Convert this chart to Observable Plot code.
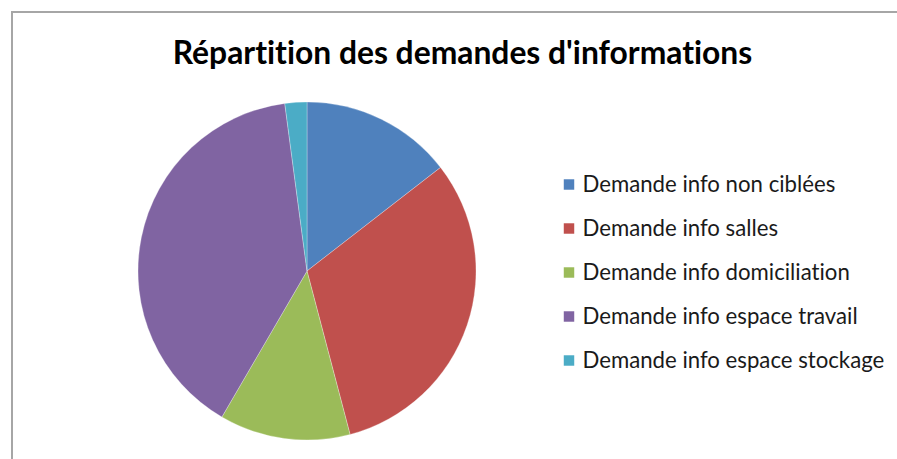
<!DOCTYPE html>
<html>
<head>
<meta charset="utf-8">
<script src="https://cdn.jsdelivr.net/npm/d3@7"></script>
<script src="https://cdn.jsdelivr.net/npm/@observablehq/plot@0.6"></script>
<style>
  html, body { margin: 0; padding: 0; background: #fff; overflow: hidden; }
  svg text { font-variant-ligatures: none; }
</style>
</head>
<body>
<div id="chart"></div>
<script>
const title = "Répartition des demandes d'informations";
const categories = [
  "Demande info non ciblées",
  "Demande info salles",
  "Demande info domiciliation",
  "Demande info espace travail",
  "Demande info espace stockage"
];
const values = [14.5, 31.4, 12.5, 39.5, 2.1];
const colors = ["#4F81BD", "#C0504D", "#9BBB59", "#8064A2", "#4BACC6"];

const data = categories.map((c, i) => ({label: c, value: values[i]}));

const pieCx = 307, pieCy = 271, pieR = 169;

function borderMark(index, scales, channels, dimensions) {
  return d3.create("svg:path")
    .attr("d", "M12,470V12H910")
    .attr("fill", "none")
    .attr("stroke", "#a6a6a6")
    .attr("stroke-width", 2)
    .node();
}

function pieMark(index, scales, channels, dimensions, context) {
  const arcs = d3.pie().sort(null).value(d => d.value)(data);
  const arc = d3.arc().innerRadius(0).outerRadius(pieR);
  const g = d3.create("svg:g").attr("transform", `translate(${pieCx},${pieCy})`);
  g.selectAll("path").data(arcs).join("path")
    .attr("d", arc)
    .attr("fill", d => scales.color(d.data.label))
    .attr("stroke", "#ffffff")
    .attr("stroke-opacity", 0.35)
    .attr("stroke-width", 0.8);
  return g.node();
}

const chart = Plot.plot({
  width: 897,
  height: 459,
  margin: 0,
  style: {background: "#fff", fontFamily: "Lato, 'Open Sans', sans-serif", overflow: "hidden"},
  y: {type: "point", domain: categories, range: [184, 360], padding: 0, axis: null},
  color: {domain: categories, range: colors},
  marks: [
    borderMark,
    Plot.text([title], {
      text: d => d, frameAnchor: "top-left", dx: 462, dy: 53,
      textAnchor: "middle", lineAnchor: "middle",
      fontSize: 31.8, fontWeight: "bold", fill: "#000"
    }),
    pieMark,
    Plot.dot(data, {
      y: "label", fill: "label", symbol: "square", r: 5.9,
      frameAnchor: "left", dx: 568.5, stroke: null
    }),
    Plot.text(data, {
      y: "label", text: "label", frameAnchor: "left", dx: 582,
      textAnchor: "start", lineAnchor: "middle", fontSize: 22.2, fill: "#1a1a1a"
    })
  ]
});
document.getElementById("chart").appendChild(chart);
</script>
</body>
</html>
